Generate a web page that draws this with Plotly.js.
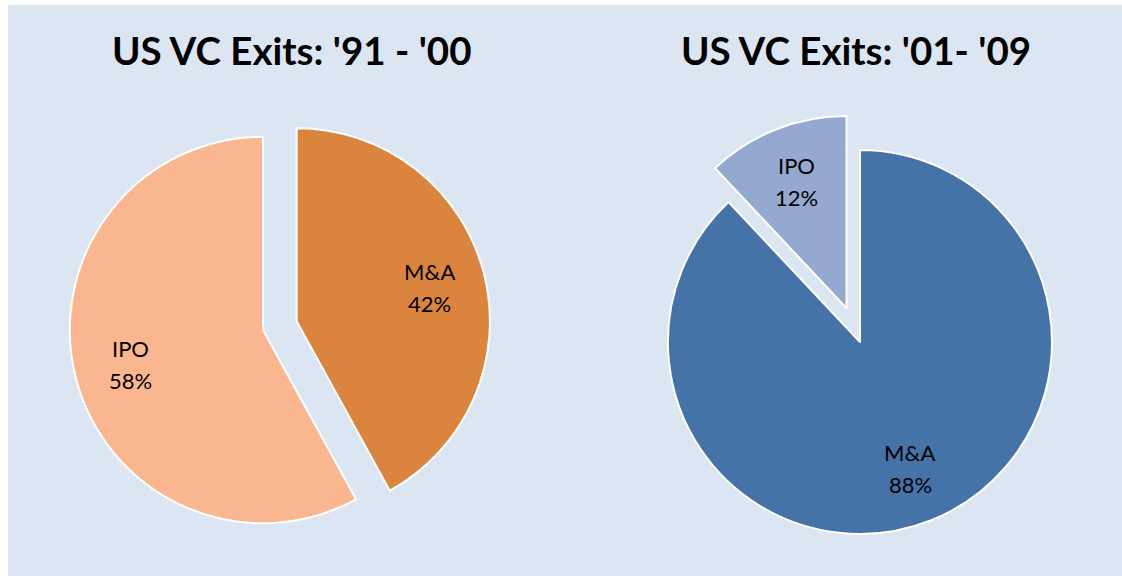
<!DOCTYPE html>
<html>
<head>
<meta charset="utf-8">
<script src="https://cdn.plot.ly/plotly-3.0.1.min.js"></script>
<style>html,body{margin:0;padding:0;background:#fff;}#chart{width:1122px;height:576px;}</style>
</head>
<body>
<div id="chart"></div>
<script>
const titles = ["US VC Exits: '91 - '00", "US VC Exits: '01- '09"];
const labels1 = ["M&A", "IPO"];
const values1 = [42, 58];
const pull1 = [0.18, 0];
const colors1 = ["#db843d", "#f9b68f"];
const labels2 = ["M&A", "IPO"];
const values2 = [88, 12];
const pull2 = [0, 0.19];
const colors2 = ["#4572a7", "#93a9cf"];

const FONT = "Lato, 'Open Sans', sans-serif";
const W = 1122, H = 576;
const domains = [
  {x: [0.0312, 0.4376], y: [0.03125, 0.8229]},
  {x: [0.5628, 0.9701], y: [0.0095, 0.803]}
];
const LABEL_R = 0.71;

function pieTrace(labels, values, pull, colors, domain) {
  return {
    type: 'pie',
    labels: labels,
    values: values,
    pull: pull,
    sort: false,
    direction: 'clockwise',
    rotation: 0,
    marker: {colors: colors, line: {color: '#ffffff', width: 2}},
    textinfo: 'none',
    hoverinfo: 'label+percent',
    showlegend: false,
    domain: domain
  };
}

// Slice labels placed along each slice's mid angle (same geometry as Plotly's pie scaling)
function sliceAnnotations(labels, values, pull, domain) {
  const out = [];
  const total = values.reduce((a, b) => a + b, 0);
  const maxPull = Math.max.apply(null, pull);
  const w = W * (domain.x[1] - domain.x[0]), h = H * (domain.y[1] - domain.y[0]);
  const r = Math.min(w, h) / (2 + 2 * maxPull);
  const cx = W * (domain.x[0] + domain.x[1]) / 2;
  const cy = H * (1 - (domain.y[0] + domain.y[1]) / 2);
  let cum = 0;
  values.forEach((v, i) => {
    const mid = (cum + v / 2) / total * 2 * Math.PI;
    cum += v;
    const d = r * (LABEL_R + pull[i]);
    const px = cx + d * Math.sin(mid);
    const py = cy - d * Math.cos(mid);
    const pct = Math.round(v / total * 100) + '%';
    [[labels[i], 16], [pct, -16]].forEach(([t, ys]) => {
      out.push({text: t, xref: 'paper', yref: 'paper', x: px / W, y: 1 - py / H,
        xanchor: 'center', yanchor: 'middle', yshift: ys, showarrow: false,
        font: {family: FONT, size: 22, color: '#000'}});
    });
  });
  return out;
}

const data = [
  pieTrace(labels1, values1, pull1, colors1, domains[0]),
  pieTrace(labels2, values2, pull2, colors2, domains[1])
];

const layout = {
  width: W,
  height: H,
  margin: {l: 0, r: 0, t: 0, b: 0},
  paper_bgcolor: '#ffffff',
  showlegend: false,
  shapes: [{
    type: 'rect', xref: 'paper', yref: 'paper',
    x0: 8/W, x1: 1, y0: 0, y1: 1 - 5/H,
    fillcolor: '#dce6f2', line: {width: 0}, layer: 'below'
  }],
  annotations: [
    {text: '<b>' + titles[0] + '</b>', xref: 'paper', yref: 'paper', x: 291/W, y: 1 - 50/H,
     xanchor: 'center', yanchor: 'middle', showarrow: false, font: {family: FONT, size: 38.5, color: '#000'}},
    {text: '<b>' + titles[1] + '</b>', xref: 'paper', yref: 'paper', x: 856/W, y: 1 - 50/H,
     xanchor: 'center', yanchor: 'middle', showarrow: false, font: {family: FONT, size: 38.5, color: '#000'}}
  ].concat(sliceAnnotations(labels1, values1, pull1, domains[0]))
   .concat(sliceAnnotations(labels2, values2, pull2, domains[1]))
};

Plotly.newPlot('chart', data, layout, {displayModeBar: false, staticPlot: true});
</script>
</body>
</html>
